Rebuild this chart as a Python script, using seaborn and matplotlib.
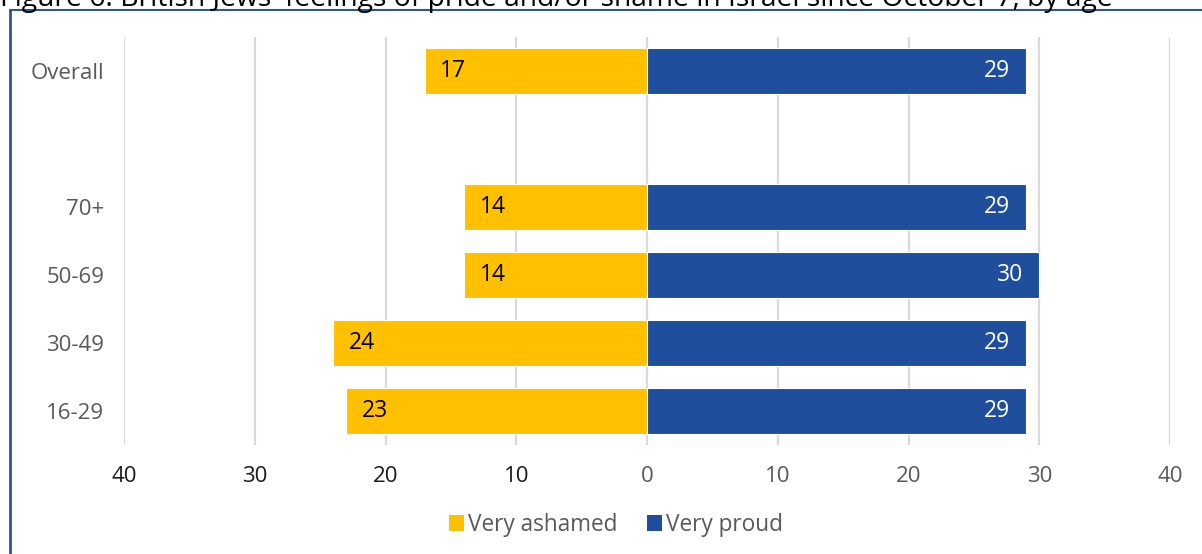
import matplotlib
matplotlib.use("Agg")
import matplotlib.pyplot as plt
from matplotlib.lines import Line2D
from matplotlib.patches import Patch
import seaborn as sns
import pandas as pd

# Survey data
groups = ["Overall", " ", "70+", "50-69", "30-49", "16-29"]
age_groups = ["Overall", "70+", "50-69", "30-49", "16-29"]
very_ashamed = [17, 14, 14, 24, 23]
very_proud = [29, 29, 30, 29, 29]
x_ticks = [-40, -30, -20, -10, 0, 10, 20, 30, 40]
x_tick_labels = ["40", "30", "20", "10", "0", "10", "20", "30", "40"]
title = "Figure 6: British Jews' feelings of pride and/or shame in Israel since October 7, by age"

YELLOW = "#FFC000"
BLUE = "#1F4E9C"
GREY_TXT = "#595959"

sns.set_theme(style="white")
plt.rcParams["font.family"] = ["Open Sans", "DejaVu Sans"]

df_shame = pd.DataFrame({"group": age_groups, "value": [-v for v in very_ashamed]})
df_proud = pd.DataFrame({"group": age_groups, "value": very_proud})

fig = plt.figure(figsize=(12.02, 5.54), dpi=100)
ax = fig.add_axes([124 / 1202, 1 - 445 / 554, (1170 - 124) / 1202, (445 - 37) / 554])

sns.barplot(data=df_shame, y="group", x="value", order=groups, orient="h",
            color=YELLOW, saturation=1, width=0.67, ax=ax,
            edgecolor="white", linewidth=0.8, zorder=3)
sns.barplot(data=df_proud, y="group", x="value", order=groups, orient="h",
            color=BLUE, saturation=1, width=0.67, ax=ax,
            edgecolor="white", linewidth=0.8, zorder=3)

ax.set_xlim(-40, 40)
ax.set_xticks(x_ticks)
ax.set_xticklabels(x_tick_labels)
ax.set_xlabel("")
ax.set_ylabel("")
ax.grid(axis="x", color="#D9D9D9", linewidth=1.6, zorder=0)
ax.grid(axis="y", visible=False)
for s in ax.spines.values():
    s.set_visible(False)
ax.tick_params(axis="x", length=0, pad=15, labelsize=16)
ax.tick_params(axis="y", length=0, pad=14, labelsize=16, labelcolor=GREY_TXT)
for lbl, val in zip(ax.get_xticklabels(), x_ticks):
    lbl.set_color("#1a1a1a" if val < 0 else GREY_TXT)

# Value labels
ypos = {g: i for i, g in enumerate(groups)}
for g, v in zip(age_groups, very_ashamed):
    ax.text(-v + 1.2, ypos[g], str(v), ha="left", va="center",
            fontsize=16.5, color="black", zorder=5)
for g, v in zip(age_groups, very_proud):
    ax.text(v - 1.2, ypos[g], str(v), ha="right", va="center",
            fontsize=16.5, color="white", zorder=5)

# Legend
handles = [Patch(facecolor=YELLOW, edgecolor="none", label="Very ashamed"),
           Patch(facecolor=BLUE, edgecolor="none", label="Very proud")]
fig.legend(handles=handles, loc="center", bbox_to_anchor=(616 / 1202, 1 - 525 / 554),
           ncol=2, frameon=False, fontsize=16.3, handlelength=0.65, handleheight=0.65,
           handletextpad=0.2, columnspacing=1.3, labelcolor=GREY_TXT)

# Title and frame
fig.text(0.0, 1 - 6 / 554, title, ha="left", va="baseline", fontsize=20.3, color="black")
fig.add_artist(Line2D([10 / 1202, 1], [1 - 10 / 554, 1 - 10 / 554],
                      transform=fig.transFigure, color="#2F5597", linewidth=1.5))
fig.add_artist(Line2D([10 / 1202, 10 / 1202], [1 - 10 / 554, 0],
                      transform=fig.transFigure, color="#2F5597", linewidth=2))

fig.savefig("out.png", dpi=100)
